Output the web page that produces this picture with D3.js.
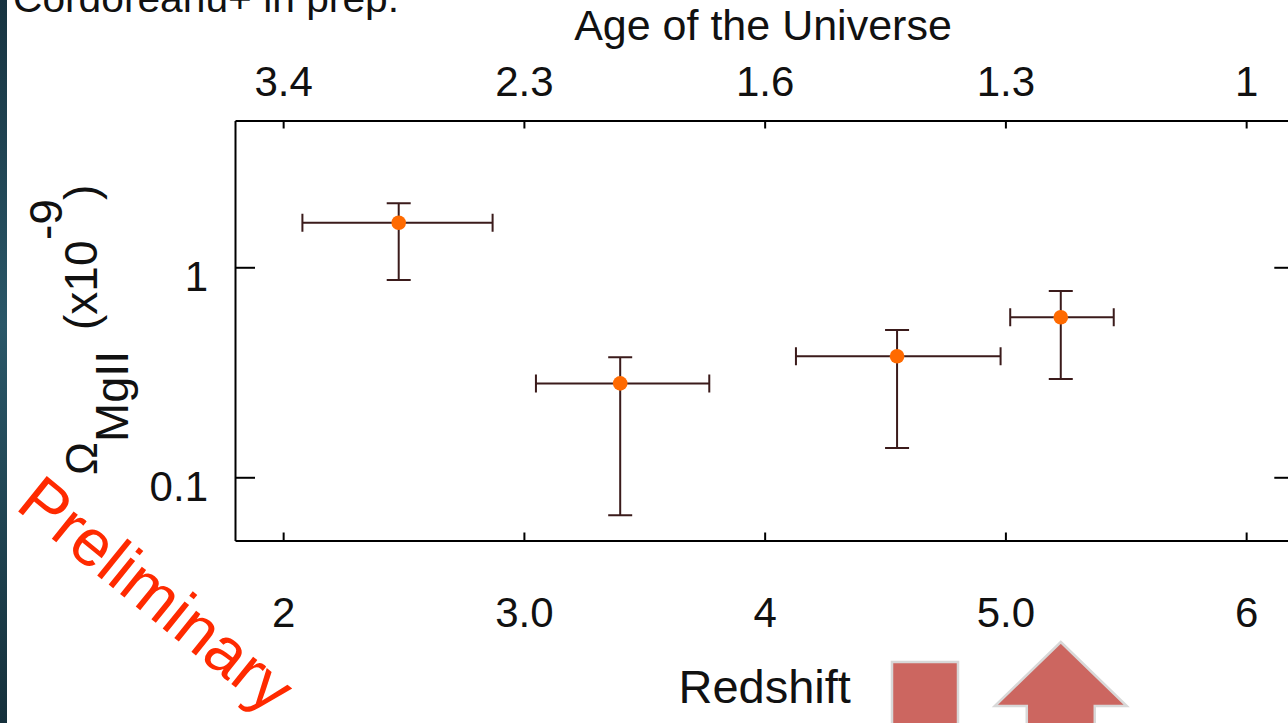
<!DOCTYPE html>
<html>
<head>
<meta charset="utf-8">
<script src="https://cdn.jsdelivr.net/npm/d3@7"></script>
<style>
  html, body { margin: 0; padding: 0; background: #fff; }
  svg { display: block; }
  text { font-family: "Liberation Sans", Arial, Helvetica, sans-serif; }
</style>
</head>
<body>
<svg id="chart" width="1288" height="723"></svg>
<script>
// MgII comoving mass density per redshift bin
const redshift     = [2.48, 3.40, 4.55, 5.23];
const redshiftLow  = [2.08, 3.05, 4.13, 5.02];
const redshiftHigh = [2.87, 3.77, 4.98, 5.45];
const omegaMgII     = [1.63, 0.280, 0.377, 0.578];
const omegaMgIIHigh = [2.02, 0.373, 0.503, 0.771];
const omegaMgIILow  = [0.87, 0.066, 0.138, 0.294];

// Axis ticks
const redshiftTicks = [2, 3, 4, 5, 6];
const redshiftTickLabels = ["2", "3.0", "4", "5.0", "6"];
const ageTickLabels = ["3.4", "2.3", "1.6", "1.3", "1"];
const omegaTicks = [0.1, 1];
const omegaTickLabels = ["0.1", "1"];

const svg = d3.select("#chart");

// dark slide border on the left
const defs = svg.append("defs");
const g = defs.append("linearGradient").attr("id", "edge").attr("x1", 0).attr("y1", 0).attr("x2", 0).attr("y2", 1);
g.append("stop").attr("offset", "0%").attr("stop-color", "#173340");
g.append("stop").attr("offset", "45%").attr("stop-color", "#2a5768");
g.append("stop").attr("offset", "100%").attr("stop-color", "#15303b");
svg.append("rect").attr("x", 0).attr("y", 0).attr("width", 7).attr("height", 723).attr("fill", "url(#edge)");

const plot = { left: 235, top: 120.5, bottom: 540.5 };
const x = d3.scaleLinear().domain([1.8, 6.2]).range([plot.left, plot.left + 4.4 * 240.75]);
const y = d3.scaleLog().domain([0.05, 5]).range([plot.bottom, plot.top]);

const axisColor = "#000";

// bottom axis (redshift)
svg.append("g")
  .attr("transform", `translate(0,${plot.bottom})`)
  .call(d3.axisBottom(x).tickValues(redshiftTicks).tickSizeInner(-8).tickSizeOuter(0).tickPadding(57)
    .tickFormat((d, i) => redshiftTickLabels[i]));

// top axis (age of the universe)
svg.append("g")
  .attr("transform", `translate(0,${plot.top})`)
  .call(d3.axisTop(x).tickValues(redshiftTicks).tickSizeInner(-8).tickSizeOuter(0).tickPadding(25)
    .tickFormat((d, i) => ageTickLabels[i]));

// left axis (Omega)
const leftAxis = svg.append("g")
  .attr("transform", `translate(${plot.left},0)`)
  .call(d3.axisLeft(y).tickValues(omegaTicks).tickSizeInner(-20).tickSizeOuter(0).tickPadding(27)
    .tickFormat((d, i) => omegaTickLabels[i]));
leftAxis.selectAll("text").attr("dy", "0.55em");

// right axis, no labels
svg.append("g")
  .attr("transform", `translate(${x(6.2)},0)`)
  .call(d3.axisRight(y).tickValues(omegaTicks).tickSizeInner(-20).tickSizeOuter(0).tickFormat(""));

svg.selectAll(".domain, .tick line").attr("stroke", axisColor).attr("stroke-width", 2);
svg.selectAll(".tick text").attr("font-size", 42).attr("fill", "#111")
  .attr("font-family", "Liberation Sans, Arial, sans-serif");

// axis titles
svg.append("text").attr("x", 763).attr("y", 40).attr("text-anchor", "middle")
  .attr("font-size", 43).attr("fill", "#111").text("Age of the Universe");
svg.append("text").attr("x", x(4)).attr("y", 703).attr("text-anchor", "middle")
  .attr("font-size", 47).attr("fill", "#111").text("Redshift");

// y title: Omega_MgII (x10^-9), rotated
const yLabel = [
  { t: "\u03A9", bx: 97, by: 475, s: 44 },
  { t: "MgII", bx: 128, by: 442, s: 47 },
  { t: "(x10", bx: 97, by: 330, s: 46 },
  { t: "-9", bx: 62, by: 240, s: 46 },
  { t: ")", bx: 97, by: 200, s: 46 }
];
svg.selectAll("text.ylab").data(yLabel).join("text")
  .attr("class", "ylab")
  .attr("transform", d => `translate(${d.bx},${d.by}) rotate(-90)`)
  .attr("font-size", d => d.s).attr("fill", "#111")
  .text(d => d.t);

// reference note
svg.append("text").attr("x", 13).attr("y", 12)
  .attr("font-family", "Open Sans, Lato, sans-serif").attr("font-size", 38).attr("fill", "#111")
  .attr("textLength", 386).attr("lengthAdjust", "spacingAndGlyphs")
  .text("Cordoreanu+ in prep.");

// error bars and points
const data = redshift.map((z, i) => ({
  z, zl: redshiftLow[i], zh: redshiftHigh[i],
  o: omegaMgII[i], ol: omegaMgIILow[i], oh: omegaMgIIHigh[i]
}));
const errColor = "#3b1b1b";
const eb = svg.append("g").attr("stroke", errColor).attr("stroke-width", 2).attr("fill", "none");
data.forEach(d => {
  const cx = x(d.z), cy = y(d.o);
  const p = d3.path();
  // horizontal bar with end caps
  p.moveTo(x(d.zl), cy); p.lineTo(x(d.zh), cy);
  p.moveTo(x(d.zl), cy - 9); p.lineTo(x(d.zl), cy + 9);
  p.moveTo(x(d.zh), cy - 9); p.lineTo(x(d.zh), cy + 9);
  // vertical bar with end caps
  p.moveTo(cx, y(d.oh)); p.lineTo(cx, y(d.ol));
  p.moveTo(cx - 12, y(d.oh)); p.lineTo(cx + 12, y(d.oh));
  p.moveTo(cx - 12, y(d.ol)); p.lineTo(cx + 12, y(d.ol));
  eb.append("path").attr("d", p.toString());
});
svg.append("g").selectAll("circle").data(data).join("circle")
  .attr("cx", d => x(d.z)).attr("cy", d => y(d.o)).attr("r", 7.3)
  .attr("fill", "#ff6a00");

// "Preliminary" stamp
svg.append("text").attr("transform", "translate(14,508) rotate(39)")
  .attr("font-size", 66).attr("fill", "#ff2a00").text("Preliminary");

// slide arrows below the axis
const arrowFill = "#cc6660", arrowEdge = "#d8d8d8";
const tipX = x(redshift[3]), tipY = 642;
svg.append("path")
  .attr("d", `M${tipX},${tipY} L${tipX + 66},${tipY + 64} L${tipX + 34},${tipY + 64} L${tipX + 34},730 L${tipX - 34},730 L${tipX - 34},${tipY + 64} L${tipX - 66},${tipY + 64} Z`)
  .attr("fill", arrowFill).attr("stroke", arrowEdge).attr("stroke-width", 2.5);
svg.append("rect").attr("x", 892).attr("y", 662).attr("width", 66).attr("height", 70)
  .attr("fill", arrowFill).attr("stroke", arrowEdge).attr("stroke-width", 2.5);
</script>
</body>
</html>
